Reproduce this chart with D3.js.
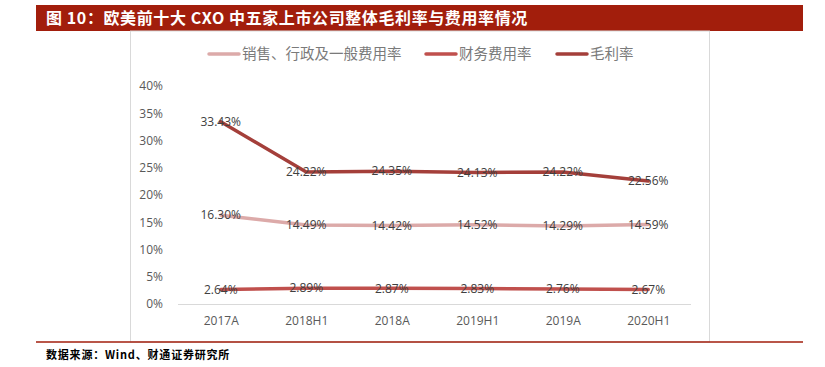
<!DOCTYPE html>
<html>
<head>
<meta charset="utf-8">
<script src="https://cdn.jsdelivr.net/npm/d3@7"></script>
<style>
  body { margin: 0; background: #fff; }
  svg { display: block; }
</style>
</head>
<body>
<div id="chart"></div>
<script>
const categories = ["2017A", "2018H1", "2018A", "2019H1", "2019A", "2020H1"];
const sgaRate = [16.30, 14.49, 14.42, 14.52, 14.29, 14.59];
const finRate = [2.64, 2.89, 2.87, 2.83, 2.76, 2.67];
const grossMargin = [33.43, 24.22, 24.35, 24.13, 24.22, 22.56];
const yTicks = [0, 5, 10, 15, 20, 25, 30, 35, 40];

const series = [
  { name: "销售、行政及一般费用率", values: sgaRate, color: "#dcaaa9" },
  { name: "财务费用率", values: finRate, color: "#c0504d" },
  { name: "毛利率", values: grossMargin, color: "#a43f3a" }
];

const W = 825, H = 367;
const svg = d3.select("#chart").append("svg")
  .attr("width", W).attr("height", H);

// 标题栏
svg.append("rect").attr("x", 36).attr("y", 5).attr("width", 767).attr("height", 26)
  .attr("fill", "#a21e0c");
svg.append("text").attr("x", 46).attr("y", 24)
  .attr("fill", "#fff").attr("font-family", "'Noto Sans CJK SC'")
  .attr("font-weight", "bold").attr("font-size", 16)
  .attr("letter-spacing", 0.6)
  .text("图 10：欧美前十大 CXO 中五家上市公司整体毛利率与费用率情况");

// 图表外框
svg.append("rect").attr("x", 130.5).attr("y", 31).attr("width", 579).attr("height", 311)
  .attr("fill", "none").attr("stroke", "#d9d9d9");

// 底部红线与来源
svg.append("line").attr("x1", 36).attr("x2", 803).attr("y1", 342).attr("y2", 342)
  .attr("stroke", "#a21e0c").attr("stroke-width", 1.5);
svg.append("text").attr("x", 46).attr("y", 359)
  .attr("font-family", "'Noto Sans CJK SC'").attr("font-weight", "bold")
  .attr("font-size", 11).attr("fill", "#000").attr("letter-spacing", 0.8)
  .text("数据来源：Wind、财通证券研究所");

const x = d3.scalePoint().domain(categories).range([178, 691]).padding(0.5);
const y = d3.scaleLinear().domain([0, 40]).range([304, 86]);

// y 轴
const yAxis = svg.append("g").attr("transform", "translate(168,0)")
  .call(d3.axisLeft(y).tickValues(yTicks).tickFormat(d => d + "%").tickSize(0));
yAxis.select(".domain").remove();
yAxis.selectAll("text").attr("font-family", "'Open Sans'").attr("font-size", 12)
  .attr("fill", "#595959").attr("x", -5);

// x 轴
const xAxis = svg.append("g").attr("transform", "translate(0,304)")
  .call(d3.axisBottom(x).tickSize(0));
xAxis.select(".domain").attr("stroke", "#d9d9d9").attr("d", "M178,0.5H691");
xAxis.selectAll("text").attr("font-family", "'Open Sans'").attr("font-size", 12)
  .attr("fill", "#595959").attr("dy", "1.5em");

const line = d3.line().x((d, i) => x(categories[i])).y(d => y(d));

series.forEach(s => {
  svg.append("path").datum(s.values)
    .attr("d", line).attr("fill", "none")
    .attr("stroke", s.color).attr("stroke-width", 3.5)
    .attr("stroke-linecap", "round").attr("stroke-linejoin", "round");
});

series.forEach(s => {
  svg.append("g").selectAll("text").data(s.values).join("text")
    .attr("x", (d, i) => x(categories[i]))
    .attr("y", d => y(d))
    .attr("dy", "0.35em")
    .attr("text-anchor", "middle")
    .attr("font-family", "'Open Sans'").attr("font-size", 12)
    .attr("fill", "#404040")
    .text(d => d.toFixed(2) + "%");
});

// 图例
const legendX = [208, 425, 556];
const legend = svg.append("g").selectAll("g").data(series).join("g")
  .attr("transform", (d, i) => `translate(${legendX[i]},54)`);
legend.append("line").attr("x1", 1).attr("x2", 31)
  .attr("stroke", d => d.color).attr("stroke-width", 3.5).attr("stroke-linecap", "round");
legend.append("text").attr("x", 34).attr("dy", "0.35em")
  .attr("font-family", "'Noto Sans CJK SC'").attr("font-size", 14.5)
  .attr("fill", "#7a7a7a").text(d => d.name);
</script>
</body>
</html>
